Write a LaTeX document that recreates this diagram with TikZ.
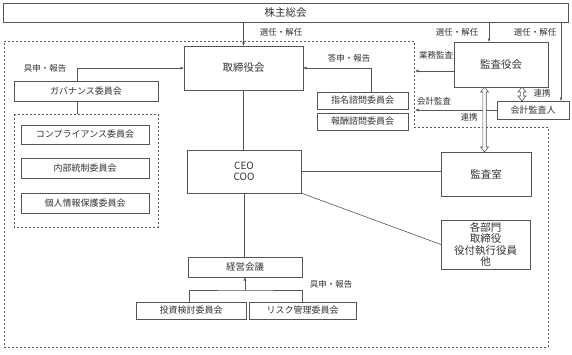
\documentclass[tikz,border=0pt]{standalone}
\usepackage{fontspec}
\setmainfont{Noto Sans CJK JP}
\usetikzlibrary{arrows.meta,calc}
\definecolor{ln}{HTML}{555555}
\definecolor{tx}{HTML}{333333}
\newcommand{\hollowarrow}[2]{%
  \draw[draw=ln,line width=0.6pt,fill=white,line join=miter]
    ($(#1)+(-4,5)$) -- (#1) -- ($(#1)+(4,5)$) -- ($(#1)+(1.7,5)$) --
    ($(#2)+(1.7,-5)$) -- ($(#2)+(4,-5)$) -- (#2) -- ($(#2)+(-4,-5)$) --
    ($(#2)+(-1.7,-5)$) -- ($(#1)+(-1.7,5)$) -- cycle;}
\begin{document}
\begin{tikzpicture}[x=1pt,y=-1pt,
  box/.style={draw=ln,line width=0.6pt,fill=white,inner sep=0pt,outer sep=0pt,text=tx,font=\fontsize{9}{11}\selectfont,align=center},
  big/.style={box,font=\fontsize{10.5}{11.5}\selectfont},
  lbl/.style={text=tx,font=\fontsize{8.5}{10}\selectfont,inner sep=0pt},
  con/.style={draw=ln,line width=0.6pt},
  arr/.style={con,-{Latex[length=3.5pt,width=3pt]}},
  dsh/.style={draw=ln,line width=0.6pt,dash pattern=on 2pt off 2pt}]
\useasboundingbox (0,0) rectangle (572,354);
% outer dashed region
\draw[dsh] (4,41) -- (414,41) -- (414,127) -- (548,127) -- (548,347) -- (4,347) -- cycle;
\draw[dsh] (14,114) rectangle (158,227);
% boxes
\node[big,minimum width=565pt,minimum height=19pt] (kabu) at (285.5,12.5) {株主総会};
\node[big,minimum width=119pt,minimum height=44pt] (tori) at (243.5,68) {取締役会};
\node[big,minimum width=94pt,minimum height=45pt] (kansa) at (501,64.5) {監査役会};
\node[box,minimum width=72pt,minimum height=18pt] (kaikei) at (533,110) {会計監査人};
\node[box,minimum width=91pt,minimum height=17pt] (shimei) at (362.5,100.5) {指名諮問委員会};
\node[box,minimum width=91pt,minimum height=17pt] (hoshu) at (362.5,121.5) {報酬諮問委員会};
\node[box,minimum width=144pt,minimum height=20pt] (gov) at (86,91) {ガバナンス委員会};
\node[box,minimum width=128pt,minimum height=19pt] (comp) at (85,134.5) {コンプライアンス委員会};
\node[box,minimum width=128pt,minimum height=20pt] (naibu) at (85,168) {内部統制委員会};
\node[box,minimum width=128pt,minimum height=20pt] (kojin) at (85,203) {個人情報保護委員会};
\node[box,font=\fontsize{10}{11}\selectfont,minimum width=114pt,minimum height=43pt] (ceo) at (244,171.5) {CEO\\COO};
\node[big,minimum width=90pt,minimum height=44pt] (shitsu) at (486,174) {監査室};
\node[big,minimum width=89pt,minimum height=49pt] (kakubu) at (485.5,244.5) {各部門\\取締役\\役付執行役員\\他};
\node[box,font=\fontsize{9.5}{11}\selectfont,minimum width=114pt,minimum height=20pt] (keiei) at (245,267) {経営会議};
\node[box,minimum width=110pt,minimum height=17pt] (toushi) at (191,310.5) {投資検討委員会};
\node[box,minimum width=107pt,minimum height=17pt] (risk) at (302.5,310.5) {リスク管理委員会};
% coordinates
\coordinate (ga) at (415,71);
\coordinate (ka) at (415,110);
\coordinate (j) at (245,290);
\coordinate (gt) at (77,114);
\coordinate (r1) at ([xshift=21pt]kansa.south);
\coordinate (r2) at (r1 |- kaikei.north);
\coordinate (h1) at ([xshift=-1.5pt]shitsu.north |- kansa.south);
\coordinate (h2) at ([xshift=-1.5pt]shitsu.north);
% connectors
\draw[arr] (tori.north |- kabu.south) -- (tori.north);
\draw[arr] ([xshift=-12pt]kansa.north |- kabu.south) -- ([xshift=-12pt]kansa.north);
\draw[arr] ([xshift=28pt]kaikei.north |- kabu.south) -- ([xshift=28pt]kaikei.north);
\draw[arr] ([yshift=-6.5pt]kansa.west) -- (ga);
\draw[arr] (kaikei.west) -- (ka);
\hollowarrow{r1}{r2}
\hollowarrow{h1}{h2}
\draw[arr] ([xshift=8.5pt]shimei.north) |- (tori.east);
\draw[arr] ([xshift=-9pt]gov.north) |- (tori.west);
\draw[con] ([xshift=-9pt]gov.south) -- (gt);
\draw[con] (tori.south) -- (tori.south |- ceo.north);
\draw[con] (ceo.south) -- (ceo.south |- keiei.north);
\draw[con] (ceo.east) -- (ceo.east -| shitsu.west);
\draw[con] (ceo.south east) -- (kakubu.west);
\draw[con] ([xshift=-2pt]toushi.north) |- (j) -| (risk.north);
\draw[arr] (j) -- (keiei.south);
% labels
\node[lbl] (l1) at (281,32) {選任・解任};
\node[lbl] (l2) at (457,32) {選任・解任};
\node[lbl] (l3) at (535,32) {選任・解任};
\node[lbl] (l4) at (436,55) {業務監査};
\node[lbl] (l5) at (434,101) {会計監査};
\node[lbl] (l6) at (469,117) {連携};
\node[lbl] (l7) at (542,93) {連携};
\node[lbl] (l8) at (349,58) {答申・報告};
\node[lbl] (l9) at (45,68) {具申・報告};
\node[lbl] (l10) at (331,284) {具申・報告};
\end{tikzpicture}
\end{document}
